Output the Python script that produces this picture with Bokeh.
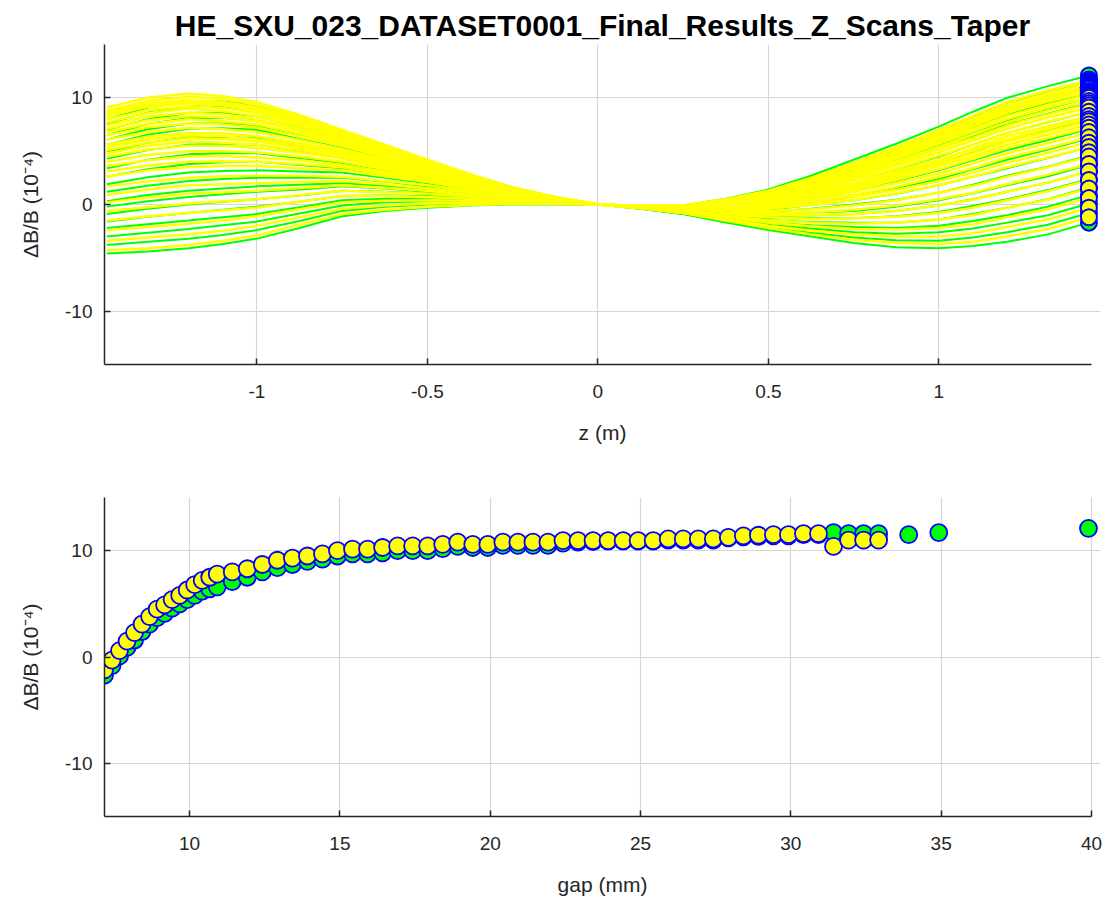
from bokeh.plotting import figure
from bokeh.layouts import column
from bokeh.models import Range1d, FixedTicker, NumeralTickFormatter
from bokeh.embed import file_html
from bokeh.resources import INLINE

# z positions (m) at which the curves are read
Z = [-1.44, -1.32, -1.2, -1.1, -1.0, -0.875, -0.75, -0.625, -0.5, -0.375, -0.25, -0.125, 0.0,
     0.125, 0.25, 0.375, 0.5, 0.625, 0.75, 0.875, 1.0, 1.1, 1.2, 1.32, 1.44]

# dB/B (1e-4) profiles along z, first data set (green)
green_curves = [
    [-4.6, -4.4, -4.1, -3.7, -3.2, -2.2, -1.1, -0.6, -0.3, -0.1, 0.0, 0.0, 0.0, -0.4, -0.9, -1.7, -2.4, -3.0, -3.6, -4.0, -4.1, -3.9, -3.5, -2.8, -1.7],
    [-3.8, -3.5, -3.2, -2.85, -2.4, -1.55, -0.6, -0.2, 0.0, 0.1, 0.1, 0.05, 0.0, -0.4, -0.9, -1.55, -2.2, -2.65, -3.1, -3.35, -3.4, -3.1, -2.6, -1.9, -0.8],
    [-3.0, -2.65, -2.3, -1.95, -1.6, -0.85, -0.1, 0.2, 0.3, 0.3, 0.2, 0.1, 0.0, -0.35, -0.8, -1.4, -1.9, -2.25, -2.6, -2.75, -2.6, -2.25, -1.7, -1.0, 0.1],
    [-2.2, -1.85, -1.5, -1.2, -0.9, -0.25, 0.4, 0.55, 0.5, 0.45, 0.3, 0.15, 0.0, -0.35, -0.8, -1.3, -1.7, -1.95, -2.1, -2.2, -2.0, -1.55, -1.0, -0.2, 0.9],
    [-1.6, -1.15, -0.8, -0.5, -0.2, 0.25, 0.8, 0.85, 0.8, 0.6, 0.4, 0.15, 0.0, -0.35, -0.7, -1.15, -1.5, -1.65, -1.7, -1.7, -1.4, -0.9, -0.3, 0.5, 1.6],
    [-0.9, -0.4, 0.0, 0.25, 0.5, 0.85, 1.3, 1.2, 1.0, 0.75, 0.5, 0.2, 0.0, -0.35, -0.7, -1.05, -1.3, -1.3, -1.3, -1.1, -0.7, -0.15, 0.5, 1.35, 2.4],
    [-0.2, 0.3, 0.7, 0.95, 1.2, 1.4, 1.7, 1.5, 1.2, 0.9, 0.6, 0.25, 0.0, -0.3, -0.6, -0.9, -1.1, -1.0, -0.9, -0.6, -0.1, 0.5, 1.2, 2.05, 3.1],
    [0.3, 0.9, 1.3, 1.5, 1.7, 1.85, 2.0, 1.75, 1.4, 1.05, 0.6, 0.25, 0.0, -0.3, -0.6, -0.8, -0.9, -0.75, -0.6, -0.2, 0.4, 1.05, 1.8, 2.65, 3.7],
    [1.2, 1.75, 2.2, 2.4, 2.5, 2.5, 2.5, 2.15, 1.7, 1.25, 0.7, 0.3, 0.0, -0.3, -0.5, -0.65, -0.7, -0.4, 0.0, 0.45, 1.1, 1.85, 2.7, 3.55, 4.6],
    [1.9, 2.55, 3.0, 3.15, 3.2, 3.1, 3.0, 2.5, 2.0, 1.4, 0.8, 0.35, 0.0, -0.25, -0.5, -0.55, -0.5, -0.05, 0.4, 1.0, 1.8, 2.6, 3.4, 4.35, 5.4],
    [2.6, 3.3, 3.8, 3.95, 4.0, 3.7, 3.4, 2.85, 2.2, 1.55, 0.9, 0.4, 0.0, -0.25, -0.4, -0.4, -0.2, 0.25, 0.9, 1.55, 2.4, 3.3, 4.2, 5.15, 6.2],
    [3.4, 4.2, 4.7, 4.8, 4.8, 4.35, 3.9, 3.25, 2.5, 1.75, 1.0, 0.45, 0.0, -0.25, -0.4, -0.25, 0.0, 0.65, 1.4, 2.2, 3.2, 4.15, 5.1, 6.05, 7.1],
    [4.3, 5.1, 5.6, 5.7, 5.6, 5.05, 4.5, 3.65, 2.8, 1.95, 1.1, 0.5, 0.0, -0.2, -0.3, -0.1, 0.3, 1.0, 1.9, 2.8, 3.9, 4.95, 6.0, 6.95, 8.0],
    [4.9, 5.8, 6.3, 6.35, 6.2, 5.55, 4.9, 3.95, 3.0, 2.1, 1.2, 0.55, 0.0, -0.2, -0.3, 0.0, 0.5, 1.3, 2.3, 3.3, 4.5, 5.6, 6.7, 7.7, 8.7],
    [5.6, 6.55, 7.1, 7.15, 7.0, 6.15, 5.3, 4.3, 3.3, 2.25, 1.3, 0.55, 0.0, -0.2, -0.3, 0.15, 0.7, 1.65, 2.7, 3.9, 5.2, 6.35, 7.5, 8.5, 9.5],
    [6.1, 7.05, 7.6, 7.6, 7.4, 6.55, 5.6, 4.55, 3.4, 2.35, 1.4, 0.6, 0.0, -0.2, -0.2, 0.2, 0.8, 1.85, 3.0, 4.25, 5.6, 6.8, 7.9, 9.0, 10.0],
    [6.5, 7.55, 8.1, 8.1, 7.9, 6.9, 5.9, 4.75, 3.6, 2.45, 1.4, 0.6, 0.0, -0.2, -0.2, 0.3, 1.0, 2.05, 3.3, 4.55, 6.0, 7.25, 8.4, 9.5, 10.5],
    [7.0, 8.0, 8.6, 8.6, 8.3, 7.3, 6.2, 4.95, 3.8, 2.55, 1.5, 0.65, 0.0, -0.15, -0.2, 0.35, 1.1, 2.25, 3.6, 4.9, 6.4, 7.7, 8.9, 10.0, 11.0],
    [7.6, 8.6, 9.2, 9.15, 8.9, 7.75, 6.5, 5.25, 3.9, 2.7, 1.5, 0.65, 0.0, -0.15, -0.1, 0.45, 1.3, 2.5, 3.9, 5.35, 6.9, 8.25, 9.5, 10.6, 11.6],
    [8.0, 9.1, 9.7, 9.65, 9.3, 8.1, 6.8, 5.45, 4.1, 2.8, 1.6, 0.7, 0.0, -0.15, -0.1, 0.55, 1.4, 2.7, 4.2, 5.7, 7.3, 8.7, 10.0, 11.1, 12.1],
]

# dB/B (1e-4) profiles along z, second data set (yellow)
yellow_curves = [
    [-4.3, -4.1, -3.8, -3.4, -2.9, -1.9, -0.9, -0.5, -0.2, -0.05, 0.05, 0.05, 0.0, -0.35, -0.8, -1.5, -2.2, -2.8, -3.3, -3.6, -3.7, -3.5, -3.0, -2.3, -1.2],
    [-3.4, -3.1, -2.8, -2.45, -2.0, -1.2, -0.4, -0.1, 0.1, 0.15, 0.2, 0.1, 0.0, -0.35, -0.8, -1.35, -2.0, -2.45, -2.8, -3.0, -3.0, -2.7, -2.1, -1.4, -0.3],
    [-2.4, -2.1, -1.8, -1.5, -1.1, -0.45, 0.2, 0.35, 0.4, 0.35, 0.3, 0.15, 0.0, -0.3, -0.7, -1.2, -1.7, -2.05, -2.3, -2.35, -2.2, -1.85, -1.2, -0.45, 0.6],
    [-1.5, -1.1, -0.8, -0.55, -0.3, 0.25, 0.8, 0.8, 0.7, 0.55, 0.4, 0.2, 0.0, -0.3, -0.7, -1.1, -1.5, -1.7, -1.8, -1.7, -1.4, -1.0, -0.3, 0.45, 1.5],
    [-0.6, -0.25, 0.1, 0.3, 0.5, 0.9, 1.3, 1.15, 1.0, 0.75, 0.5, 0.25, 0.0, -0.3, -0.6, -0.95, -1.2, -1.35, -1.3, -1.15, -0.8, -0.3, 0.4, 1.25, 2.3],
    [0.2, 0.65, 1.0, 1.15, 1.3, 1.55, 1.8, 1.55, 1.3, 0.9, 0.6, 0.25, 0.0, -0.3, -0.6, -0.85, -1.0, -1.0, -0.9, -0.6, -0.1, 0.45, 1.2, 2.05, 3.1],
    [0.9, 1.4, 1.8, 1.9, 2.0, 2.1, 2.2, 1.9, 1.5, 1.1, 0.7, 0.3, 0.0, -0.25, -0.5, -0.7, -0.8, -0.75, -0.5, -0.1, 0.5, 1.1, 1.9, 2.8, 3.8],
    [1.7, 2.15, 2.5, 2.65, 2.7, 2.7, 2.6, 2.2, 1.8, 1.25, 0.7, 0.35, 0.0, -0.25, -0.5, -0.6, -0.6, -0.45, -0.1, 0.4, 1.1, 1.75, 2.6, 3.5, 4.5],
    [2.6, 3.2, 3.5, 3.6, 3.6, 3.4, 3.2, 2.65, 2.1, 1.45, 0.9, 0.4, 0.0, -0.25, -0.4, -0.45, -0.4, -0.05, 0.4, 1.05, 1.8, 2.6, 3.5, 4.4, 5.4],
    [3.1, 3.65, 4.0, 4.05, 4.0, 3.8, 3.5, 2.85, 2.2, 1.55, 0.9, 0.4, 0.0, -0.25, -0.4, -0.4, -0.3, 0.1, 0.7, 1.35, 2.2, 3.0, 3.9, 4.85, 5.85],
    [3.6, 4.15, 4.5, 4.55, 4.4, 4.15, 3.7, 3.05, 2.4, 1.65, 1.0, 0.45, 0.0, -0.25, -0.4, -0.35, -0.2, 0.3, 0.9, 1.65, 2.6, 3.4, 4.4, 5.3, 6.3],
    [4.0, 4.65, 5.0, 5.0, 4.9, 4.5, 4.0, 3.3, 2.5, 1.75, 1.0, 0.45, 0.0, -0.25, -0.4, -0.25, 0.0, 0.5, 1.2, 2.0, 2.9, 3.85, 4.8, 5.75, 6.75],
    [4.5, 5.15, 5.5, 5.5, 5.3, 4.85, 4.3, 3.5, 2.7, 1.85, 1.1, 0.5, 0.0, -0.2, -0.3, -0.2, 0.1, 0.7, 1.4, 2.3, 3.3, 4.25, 5.3, 6.25, 7.2],
    [4.8, 5.5, 5.9, 5.8, 5.6, 5.1, 4.5, 3.65, 2.8, 1.9, 1.1, 0.5, 0.0, -0.2, -0.3, -0.15, 0.2, 0.8, 1.6, 2.5, 3.6, 4.5, 5.6, 6.55, 7.5],
    [5.1, 5.8, 6.2, 6.15, 5.9, 5.35, 4.7, 3.8, 2.9, 2.0, 1.1, 0.5, 0.0, -0.2, -0.3, -0.1, 0.3, 0.95, 1.8, 2.75, 3.8, 4.8, 5.9, 6.85, 7.8],
    [5.4, 6.1, 6.5, 6.4, 6.1, 5.55, 4.8, 3.9, 3.0, 2.05, 1.2, 0.5, 0.0, -0.2, -0.3, -0.05, 0.3, 1.05, 1.9, 2.9, 4.0, 5.05, 6.1, 7.1, 8.05],
    [5.6, 6.35, 6.7, 6.65, 6.4, 5.75, 5.0, 4.05, 3.1, 2.1, 1.2, 0.55, 0.0, -0.2, -0.3, 0.0, 0.4, 1.15, 2.0, 3.1, 4.2, 5.25, 6.4, 7.35, 8.3],
    [6.1, 6.8, 7.2, 7.05, 6.8, 6.05, 5.2, 4.2, 3.2, 2.2, 1.25, 0.55, 0.0, -0.2, -0.3, 0.05, 0.5, 1.3, 2.3, 3.35, 4.6, 5.6, 6.7, 7.75, 8.7],
    [6.5, 7.25, 7.6, 7.5, 7.2, 6.4, 5.5, 4.4, 3.3, 2.3, 1.3, 0.55, 0.0, -0.2, -0.2, 0.1, 0.6, 1.45, 2.5, 3.65, 4.9, 6.0, 7.1, 8.15, 9.1],
    [6.8, 7.55, 8.0, 7.8, 7.5, 6.65, 5.6, 4.55, 3.4, 2.35, 1.3, 0.6, 0.0, -0.2, -0.2, 0.15, 0.7, 1.6, 2.7, 3.85, 5.2, 6.25, 7.4, 8.45, 9.4],
    [7.1, 7.9, 8.3, 8.15, 7.8, 6.9, 5.8, 4.7, 3.5, 2.4, 1.4, 0.6, 0.0, -0.2, -0.2, 0.2, 0.8, 1.7, 2.8, 4.05, 5.4, 6.55, 7.7, 8.8, 9.7],
    [7.4, 8.25, 8.6, 8.45, 8.0, 7.1, 6.0, 4.85, 3.65, 2.5, 1.4, 0.6, 0.0, -0.15, -0.2, 0.25, 0.9, 1.85, 3.0, 4.3, 5.7, 6.85, 8.0, 9.1, 10.0],
    [7.7, 8.55, 9.0, 8.75, 8.3, 7.35, 6.2, 5.0, 3.8, 2.55, 1.4, 0.65, 0.0, -0.15, -0.2, 0.3, 0.9, 1.95, 3.2, 4.5, 5.9, 7.1, 8.3, 9.35, 10.3],
    [8.0, 8.85, 9.2, 9.05, 8.6, 7.55, 6.35, 5.1, 3.8, 2.6, 1.5, 0.65, 0.0, -0.15, -0.2, 0.35, 1.0, 2.05, 3.3, 4.65, 6.1, 7.35, 8.6, 9.65, 10.55],
    [8.3, 9.15, 9.5, 9.3, 8.8, 7.75, 6.5, 5.2, 3.9, 2.65, 1.5, 0.65, 0.0, -0.15, -0.1, 0.4, 1.1, 2.15, 3.5, 4.85, 6.3, 7.55, 8.8, 9.9, 10.8],
    [8.4, 9.3, 9.7, 9.45, 9.0, 7.85, 6.6, 5.3, 4.0, 2.7, 1.5, 0.65, 0.0, -0.15, -0.1, 0.4, 1.1, 2.25, 3.5, 4.95, 6.45, 7.7, 9.0, 10.05, 10.95],
    [8.6, 9.45, 9.8, 9.6, 9.1, 8.0, 6.7, 5.35, 4.0, 2.75, 1.5, 0.65, 0.0, -0.15, -0.1, 0.4, 1.2, 2.3, 3.6, 5.05, 6.6, 7.85, 9.1, 10.2, 11.1],
    [8.8, 9.7, 10.1, 9.9, 9.35, 8.2, 6.8, 5.5, 4.1, 2.8, 1.6, 0.7, 0.0, -0.15, -0.1, 0.45, 1.2, 2.4, 3.8, 5.2, 6.8, 8.05, 9.35, 10.45, 11.35],
    [9.1, 10.0, 10.4, 10.15, 9.6, 8.4, 7.0, 5.6, 4.2, 2.85, 1.6, 0.7, 0.0, -0.15, -0.1, 0.5, 1.3, 2.5, 3.9, 5.4, 7.0, 8.3, 9.6, 10.7, 11.6],
]

# end-of-magnet dB/B versus gap
gap_yellow = [7.17, 7.42, 7.67, 7.92, 8.17, 8.42, 8.67, 8.92, 9.17, 9.42, 9.67, 9.92,
              10.17, 10.42, 10.67, 10.92, 11.42, 11.92, 12.42, 12.92, 13.42, 13.92,
              14.42, 14.92, 15.42, 15.92, 16.42, 16.92, 17.42, 17.92, 18.42, 18.92,
              19.42, 19.92, 20.42, 20.92, 21.42, 21.92, 22.42, 22.92, 23.42, 23.92,
              24.42, 24.92, 25.42, 25.92, 26.42, 26.92, 27.42, 27.92, 28.42, 28.92,
              29.42, 29.92, 30.42, 30.92, 31.42, 31.92, 32.42, 32.92]
dbb_yellow = [-1.2, -0.3, 0.6, 1.5, 2.3, 3.1, 3.8, 4.5, 4.9, 5.4, 5.8, 6.3,
              6.8, 7.2, 7.5, 7.8, 8.0, 8.3, 8.7, 9.1, 9.3, 9.5,
              9.7, 10.0, 10.15, 10.15, 10.3, 10.45, 10.45, 10.45, 10.6, 10.8,
              10.6, 10.6, 10.8, 10.8, 10.8, 10.8, 10.95, 10.95, 10.95, 10.95,
              10.95, 10.95, 10.95, 11.1, 11.1, 11.1, 11.1, 11.25, 11.4, 11.45,
              11.5, 11.5, 11.6, 11.6, 10.4, 11.0, 11.0, 11.0]
gap_green = [7.17, 7.42, 7.67, 7.92, 8.17, 8.42, 8.67, 8.92, 9.17, 9.42, 9.67, 9.92,
             10.17, 10.42, 10.67, 10.92, 11.42, 11.92, 12.42, 12.92, 13.42, 13.92,
             14.42, 14.92, 15.42, 15.92, 16.42, 16.92, 17.42, 17.92, 18.42, 18.92,
             19.42, 19.92, 20.42, 20.92, 21.42, 21.92, 22.42, 22.92, 23.42, 23.92,
             24.42, 24.92, 25.42, 25.92, 26.42, 26.92, 27.42, 27.92, 28.42, 28.92,
             29.42, 29.92, 30.42, 30.92, 31.42, 31.92, 32.42, 32.92, 33.92, 34.92, 39.9]
dbb_green = [-1.7, -0.8, 0.1, 0.9, 1.6, 2.4, 3.1, 3.7, 4.1, 4.6, 5.0, 5.4,
             5.8, 6.2, 6.4, 6.6, 7.1, 7.5, 8.0, 8.4, 8.7, 9.0,
             9.2, 9.5, 9.7, 9.7, 9.8, 10.0, 10.0, 10.0, 10.2, 10.4,
             10.3, 10.3, 10.5, 10.5, 10.5, 10.5, 10.7, 10.8, 10.85, 10.9,
             10.9, 10.9, 10.9, 11.0, 11.0, 11.0, 11.0, 11.2, 11.3, 11.35,
             11.4, 11.4, 11.5, 11.5, 11.7, 11.6, 11.6, 11.6, 11.5, 11.7, 12.1]

z_ticks = [-1, -0.5, 0, 0.5, 1]
gap_ticks = [10, 15, 20, 25, 30, 35, 40]
dbb_ticks = [-10, 0, 10]

FONT = "Liberation Sans"
AX = "#262626"
GRN = "#00ff00"
YEL = "#ffff00"
BLU = "#0000ff"


def style(p, xticks, yticks, xlabel):
    p.outline_line_color = None
    p.background_fill_color = "white"
    p.border_fill_color = "white"
    p.xaxis.ticker = FixedTicker(ticks=xticks)
    p.yaxis.ticker = FixedTicker(ticks=yticks)
    p.xgrid.ticker = FixedTicker(ticks=xticks)
    p.ygrid.ticker = FixedTicker(ticks=yticks)
    p.xaxis.formatter = NumeralTickFormatter(format="0.[0]")
    p.yaxis.formatter = NumeralTickFormatter(format="0")
    for g in (p.xgrid, p.ygrid):
        g.grid_line_color = "#d6d6d6"
        g.grid_line_width = 1.2
    for ax in (p.xaxis[0], p.yaxis[0]):
        ax.axis_line_color = AX
        ax.axis_line_width = 1.5
        ax.major_tick_line_color = AX
        ax.major_tick_line_width = 1.5
        ax.major_tick_in = 6
        ax.major_tick_out = 0
        ax.minor_tick_line_color = None
        ax.major_label_text_font = FONT
        ax.major_label_text_font_size = "19px"
        ax.major_label_text_color = AX
        ax.axis_label_text_font = FONT
        ax.axis_label_text_font_size = "21px"
        ax.axis_label_text_font_style = "normal"
        ax.axis_label_text_color = AX
    p.xaxis.axis_label = xlabel
    p.yaxis.axis_label = "\u0394B/B (10\u207b\u2074)"
    p.xaxis.major_label_standoff = 20
    p.xaxis.axis_label_standoff = 20
    p.yaxis.major_label_standoff = 12
    p.yaxis.axis_label_standoff = 20


# ---- top: dB/B profiles along z
p1 = figure(width=1108, height=446, output_backend="svg", toolbar_location=None,
            x_range=Range1d(-1.447, 1.474), y_range=Range1d(-15, 15),
            min_border_left=104, min_border_right=8, min_border_top=44,
            min_border_bottom=80,
            title="HE_SXU_023_DATASET0001_Final_Results_Z_Scans_Taper")
p1.title.align = "center"
p1.title.vertical_align = "top"
p1.title.text_font = FONT
p1.title.text_font_size = "30px"
p1.title.text_font_style = "bold"
p1.title.text_color = "black"
p1.title.standoff = 2
style(p1, z_ticks, dbb_ticks, "z (m)")
p1.xaxis.bounds = (-1.447, 1.447)

p1.multi_line(xs=[Z] * len(green_curves), ys=green_curves, line_color=GRN, line_width=2)
p1.multi_line(xs=[Z] * len(yellow_curves), ys=yellow_curves, line_color=YEL, line_width=2.5)
# end markers, drawn from the top of the column downwards
p1.scatter([Z[-1]] * len(dbb_green), sorted(dbb_green, reverse=True), size=16,
           fill_color=GRN, line_color=BLU, line_width=2)
p1.scatter([Z[-1]] * len(dbb_yellow), sorted(dbb_yellow, reverse=True), size=16,
           fill_color=YEL, line_color=BLU, line_width=2)

# ---- bottom: dB/B at magnet end versus gap
p2 = figure(width=1108, height=452, output_backend="svg", toolbar_location=None,
            x_range=Range1d(7.17, 40.3), y_range=Range1d(-15, 15),
            min_border_left=104, min_border_right=8, min_border_top=51,
            min_border_bottom=80)
style(p2, gap_ticks, dbb_ticks, "gap (mm)")
p2.xaxis.bounds = (7.17, 40)
p2.scatter(gap_green, dbb_green, size=17, fill_color=GRN, line_color=BLU, line_width=1.8)
p2.scatter(gap_yellow, dbb_yellow, size=17, fill_color=YEL, line_color=BLU, line_width=1.8)

layout = column(p1, p2, spacing=0)
open("out.html", "w").write(file_html(layout, INLINE))
